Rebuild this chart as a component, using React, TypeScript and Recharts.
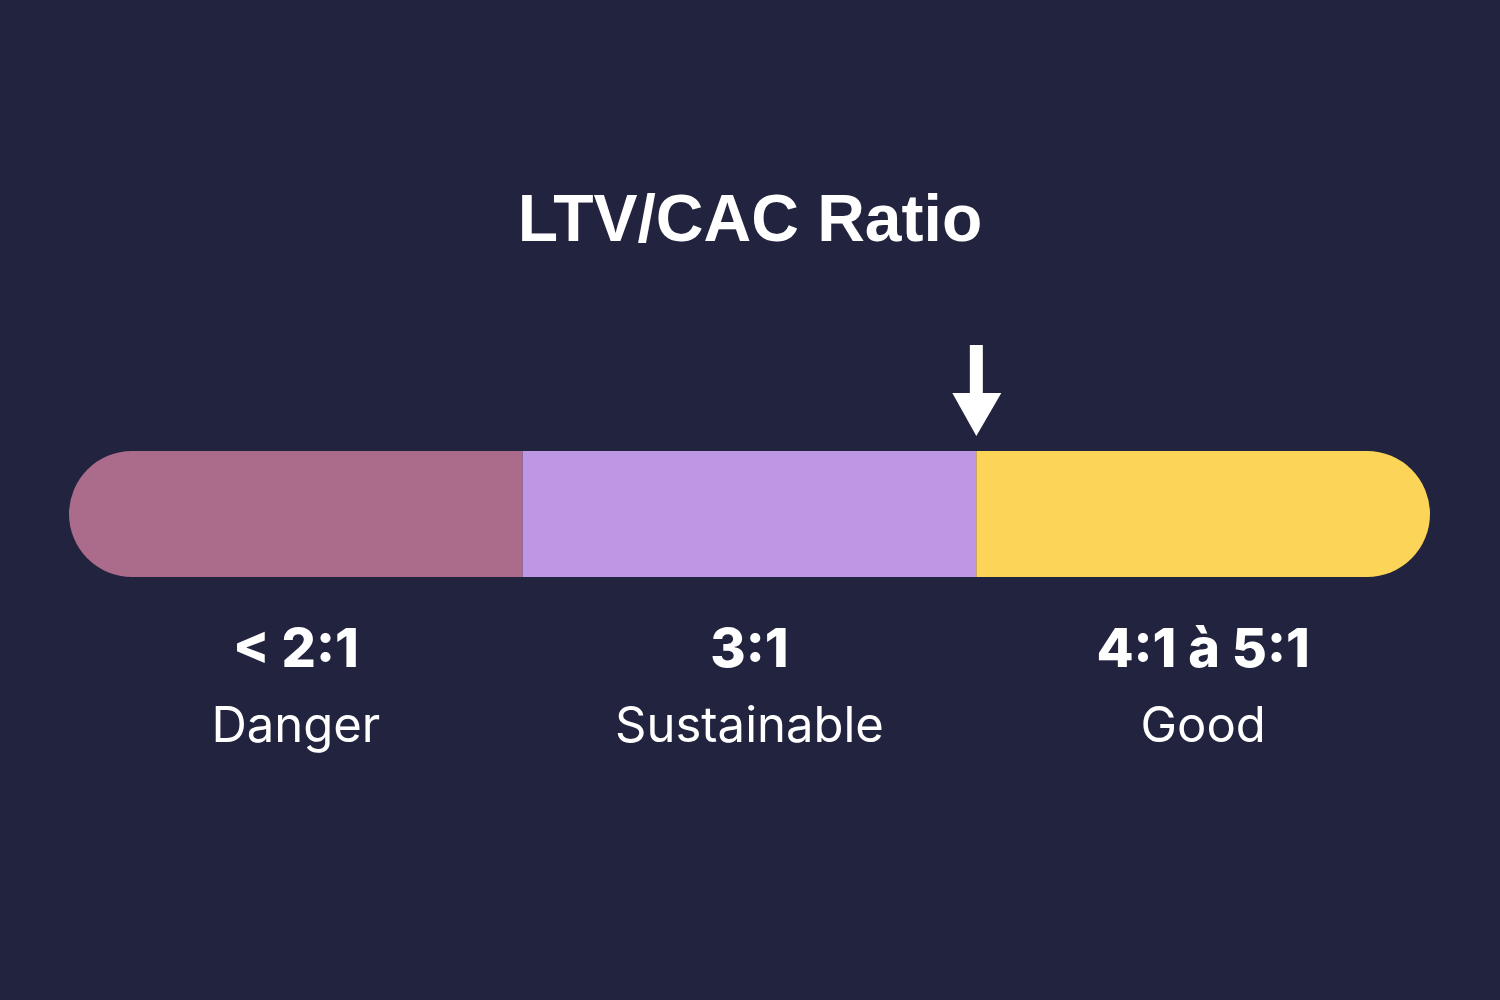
import React from 'react';
import { BarChart, Bar, XAxis, YAxis, ReferenceDot, LabelList, Customized } from 'recharts';

const categories = ['LTV/CAC'];
const segmentKeys = ['danger', 'sustainable', 'good'];
const segmentValues = [1, 1, 1];
const segmentRatios = ['< 2:1', '3:1', '4:1 à 5:1'];
const segmentNames = ['Danger', 'Sustainable', 'Good'];
const segmentColors = ['#ab6b8b', '#bd96e4', '#fcd558'];
const markerValue = 2;
const title = 'LTV/CAC Ratio';

const data = categories.map((name) => {
  const row: Record<string, any> = { name };
  segmentKeys.forEach((k, i) => {
    row[k] = segmentValues[i];
  });
  return row;
});

const BG = '#22233e';
const R = 63;

const makeLabel = (i: number) => (props: any) => {
  const { x, y, width, height } = props;
  const cx = Number(x) + Number(width) / 2;
  const bottom = Number(y) + Number(height);
  return (
    <g>
      <text
        x={cx}
        y={bottom + 90}
        textAnchor="middle"
        fill="#ffffff"
        fontFamily="Inter, 'Noto Sans', sans-serif"
        fontWeight={800}
        fontSize={54}
      >
        {segmentRatios[i]}
      </text>
      <text
        x={cx}
        y={bottom + 165}
        textAnchor="middle"
        fill="#ffffff"
        fontFamily="Inter, 'Noto Sans', sans-serif"
        fontWeight={400}
        fontSize={49}
      >
        {segmentNames[i]}
      </text>
    </g>
  );
};

const ArrowShape = (props: any) => {
  const { cx, cy } = props;
  const tip = cy - 78;
  const headTop = tip - 43;
  const shaftTop = tip - 91;
  return (
    <g>
      <rect x={cx - 6.5} y={shaftTop} width={13} height={headTop - shaftTop + 2} fill="#ffffff" />
      <polygon points={`${cx - 24},${headTop} ${cx + 25},${headTop} ${cx},${tip}`} fill="#ffffff" />
    </g>
  );
};

const Title = () => (
  <text
    x={750}
    y={241}
    textAnchor="middle"
    fill="#ffffff"
    fontFamily="'Liberation Sans', Arial, sans-serif"
    fontWeight={700}
    fontSize={66}
  >
    {title}
  </text>
);

export default function App() {
  return (
    <div style={{ position: 'absolute', left: 0, top: 0, width: 1500, height: 1000, background: BG }}>
      <BarChart
        width={1500}
        height={1000}
        data={data}
        layout="vertical"
        margin={{ top: 437, right: 70, bottom: 409, left: 69 }}
        barCategoryGap={0}
      >
        <XAxis type="number" domain={[0, 3]} hide />
        <YAxis type="category" dataKey="name" hide />
        {segmentKeys.map((k, i) => (
          <Bar
            key={k}
            dataKey={k}
            stackId="s"
            fill={segmentColors[i]}
            barSize={126}
            isAnimationActive={false}
            radius={i === 0 ? [R, 0, 0, R] : i === segmentKeys.length - 1 ? [0, R, R, 0] : 0}
          >
            <LabelList dataKey={k} content={makeLabel(i)} />
          </Bar>
        ))}
        <ReferenceDot x={markerValue} y={categories[0]} r={0} shape={ArrowShape} />
        <Customized component={Title} />
      </BarChart>
    </div>
  );
}
